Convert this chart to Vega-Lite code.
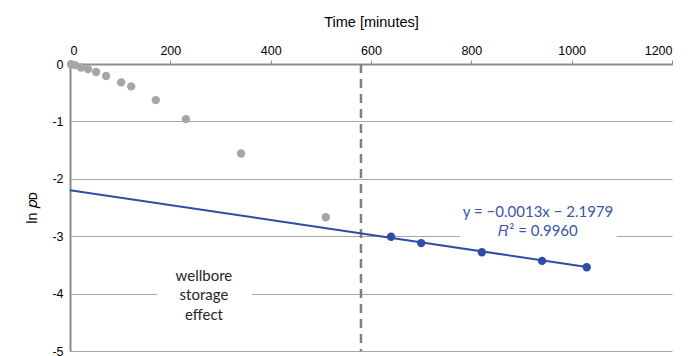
{
  "$schema": "https://vega.github.io/schema/vega-lite/v6.json",
  "width": 602,
  "height": 287,
  "autosize": "none",
  "padding": {"left": 70, "top": 64, "right": 17, "bottom": 5},
  "background": "white",
  "config": {"view": {"stroke": null}, "font": "Liberation Sans"},
  "datasets": {
    "early": [
      {"t": 2, "lnp": -0.005},
      {"t": 10, "lnp": -0.02},
      {"t": 22, "lnp": -0.06},
      {"t": 36, "lnp": -0.09},
      {"t": 52, "lnp": -0.14},
      {"t": 72, "lnp": -0.21},
      {"t": 102, "lnp": -0.32},
      {"t": 122, "lnp": -0.39},
      {"t": 171, "lnp": -0.63},
      {"t": 231, "lnp": -0.96},
      {"t": 341, "lnp": -1.56},
      {"t": 510, "lnp": -2.67}
    ],
    "late": [
      {"t": 640, "lnp": -3.01},
      {"t": 700, "lnp": -3.12},
      {"t": 821, "lnp": -3.28},
      {"t": 941, "lnp": -3.43},
      {"t": 1030, "lnp": -3.54}
    ],
    "trend": [
      {"t": 0, "lnp": -2.1979},
      {"t": 1030, "lnp": -3.5369}
    ],
    "vline": [
      {"t": 580, "y0": 0, "y1": -5}
    ],
    "boxes": [
      {"x0": 777, "x1": 1090, "y0": -2.45, "y1": -3.1},
      {"x0": 173, "x1": 363, "y0": -3.5, "y1": -4.55}
    ],
    "labels": [
      {"t": 933, "lnp": -2.58, "txt": "y = \u22120.0013x \u2212 2.1979", "c": "eq"},
      {"t": 933, "lnp": -2.91, "txt": "\ud835\udc45\u00b2 = 0.9960", "c": "eq"},
      {"t": 267, "lnp": -3.69, "txt": "wellbore", "c": "wb"},
      {"t": 267, "lnp": -4.03, "txt": "storage", "c": "wb"},
      {"t": 267, "lnp": -4.37, "txt": "effect", "c": "wb"}
    ]
  },
  "layer": [
    {
      "data": {"name": "boxes"},
      "mark": {"type": "rect", "fill": "white", "stroke": null},
      "encoding": {
        "x": {"field": "x0", "type": "quantitative", "scale": {"domain": [0, 1200], "nice": false},
          "axis": {"orient": "top", "title": "Time [minutes]", "values": [0, 200, 400, 600, 800, 1000, 1200],
            "labelExpr": "'' + datum.value",
            "grid": false, "domainColor": "#8c8c8c", "domainWidth": 2, "tickColor": "#8c8c8c", "tickSize": 4,
            "labelFontSize": 12.5, "labelColor": "#000", "labelPadding": 3, "titleFontSize": 14.5, "titleFontWeight": "normal",
            "titleColor": "#000", "titlePadding": 15, "labelFont": "Liberation Sans", "titleFont": "Liberation Sans"}},
        "x2": {"field": "x1"},
        "y": {"field": "y0", "type": "quantitative", "scale": {"domain": [-5, 0], "nice": false},
          "axis": {"values": [0, -1, -2, -3, -4, -5], "labelExpr": "'' + datum.value", "grid": true, "gridColor": "#a6a6a6", "gridWidth": 1.2,
            "domainColor": "#8c8c8c", "domainWidth": 2, "ticks": false, "labelPadding": 7,
            "labelFontSize": 12.5, "labelColor": "#000", "title": "ln \ud835\udc5d\u1d05", "titleFontSize": 14.5,
            "titleFontWeight": "normal", "titleColor": "#000", "titlePadding": 12, "labelFont": "Liberation Sans"}},
        "y2": {"field": "y1"}
      }
    },
    {
      "data": {"name": "vline"},
      "mark": {"type": "rule", "color": "#7f7f7f", "strokeWidth": 2.5, "strokeDash": [9, 6]},
      "encoding": {
        "x": {"field": "t", "type": "quantitative"},
        "y": {"field": "y0", "type": "quantitative"},
        "y2": {"field": "y1"}
      }
    },
    {
      "data": {"name": "trend"},
      "mark": {"type": "line", "color": "#2e4ea6", "strokeWidth": 2},
      "encoding": {
        "x": {"field": "t", "type": "quantitative"},
        "y": {"field": "lnp", "type": "quantitative"}
      }
    },
    {
      "data": {"name": "early"},
      "mark": {"type": "circle", "color": "#a6a6a6", "opacity": 1, "size": 70},
      "encoding": {
        "x": {"field": "t", "type": "quantitative"},
        "y": {"field": "lnp", "type": "quantitative"}
      }
    },
    {
      "data": {"name": "late"},
      "mark": {"type": "circle", "color": "#2e4ea6", "opacity": 1, "size": 70},
      "encoding": {
        "x": {"field": "t", "type": "quantitative"},
        "y": {"field": "lnp", "type": "quantitative"}
      }
    },
    {
      "data": {"name": "labels"},
      "mark": {"type": "text", "font": "Lato", "fontSize": 15, "align": "center", "baseline": "middle"},
      "encoding": {
        "x": {"field": "t", "type": "quantitative"},
        "y": {"field": "lnp", "type": "quantitative"},
        "text": {"field": "txt"},
        "color": {"field": "c", "type": "nominal", "scale": {"domain": ["eq", "wb"], "range": ["#3b56a6", "#262626"]}, "legend": null}
      }
    }
  ]
}
